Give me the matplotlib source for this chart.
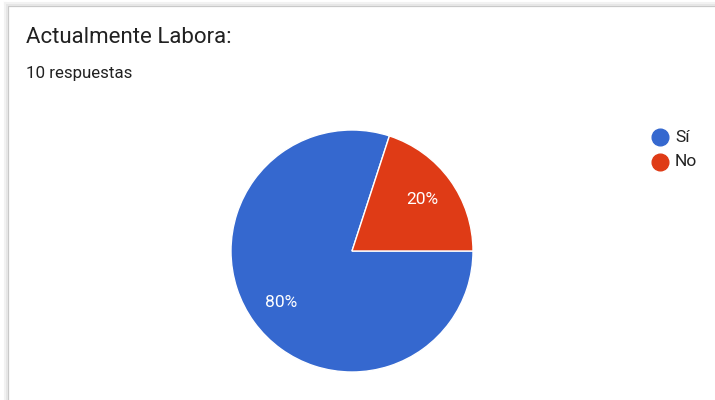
"""
Pie chart of the answers to 'Actualmente Labora:'.
"""
import matplotlib.pyplot as plt
from matplotlib.lines import Line2D

labels = ["Sí", "No"]
counts = [8, 2]
colors = ["#3568CF", "#DF3B16"]

title = "Actualmente Labora:"
subtitle = "10 respuestas"

W, H = 715, 400
plt.rcParams["font.family"] = ["Roboto", "DejaVu Sans"]

fig = plt.figure(figsize=(W / 100, H / 100), dpi=100)
fig.patch.set_facecolor("white")


def px(x, y):
    # pixel coordinates (from top-left) to figure fraction
    return x / W, 1 - y / H


# card border with a soft shadow
for off, col, lw in [(0, "#c8c8c8", 1.6), (1.5, "#e6e6e6", 1.5), (3, "#f2f2f2", 1.5)]:
    x0, y0 = px(8 - off, 6 - off)
    x1, _ = px(W, 0)
    _, y1 = px(0, H)
    fig.add_artist(Line2D([x0, x0], [y0, y1], color=col, lw=lw, transform=fig.transFigure))
    fig.add_artist(Line2D([x0, x1], [y0, y0], color=col, lw=lw, transform=fig.transFigure))

# titles
fig.text(*px(26, 43), title, fontsize=16, color="#212121", va="baseline")
fig.text(*px(26, 78), subtitle, fontsize=12.2, color="#212121", va="baseline")

# pie
cx, cy, r = 352, 251, 121
ax = fig.add_axes([(cx - r) / W, (H - cy - r) / H, 2 * r / W, 2 * r / H])
wedges, _, autotexts = ax.pie(
    counts,
    colors=colors,
    startangle=72,
    counterclock=True,
    autopct="%1.0f%%",
    pctdistance=0.72,
    wedgeprops=dict(edgecolor="white", linewidth=1),
    textprops=dict(color="white", fontsize=12.5),
)
ax.set_xlim(-1, 1)
ax.set_ylim(-1, 1)
ax.set_aspect("equal")
ax.axis("off")

# legend
for i, (lab, col) in enumerate(zip(labels, colors)):
    lx, ly = px(660, 137 + 25 * i)
    fig.add_artist(Line2D([lx], [ly], marker="o", markersize=12, color=col,
                          transform=fig.transFigure))
    fig.text(*px(675, 137 + 25 * i), lab, fontsize=12.5, color="#222222", va="center")

fig.savefig("out.png", dpi=100)
